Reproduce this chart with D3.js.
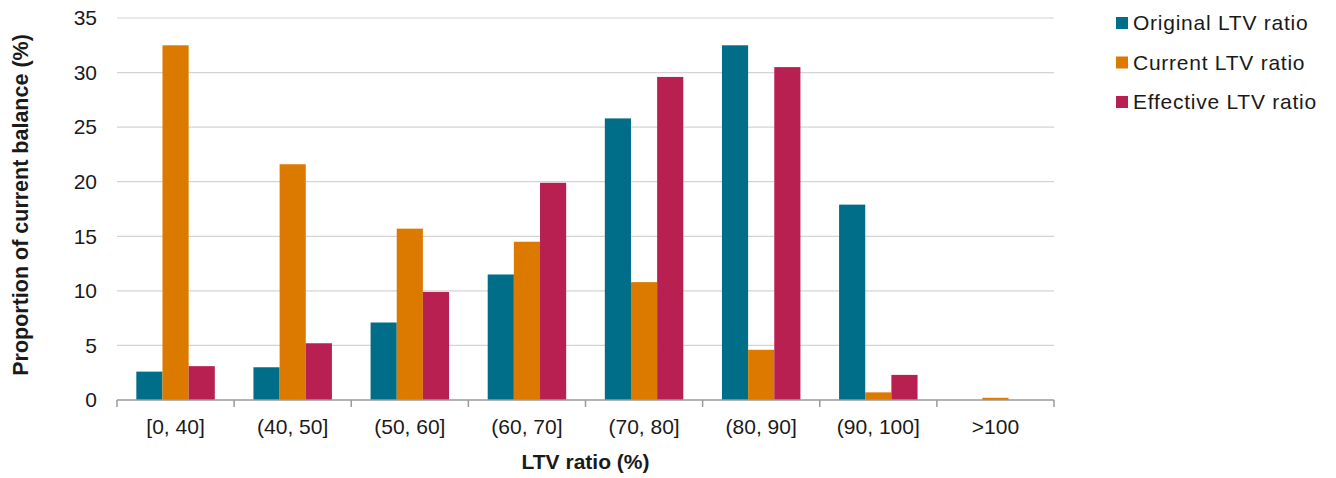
<!DOCTYPE html>
<html>
<head>
<meta charset="utf-8">
<script src="https://cdn.jsdelivr.net/npm/d3@7/dist/d3.min.js"></script>
<style>
  html, body { margin: 0; padding: 0; background: #ffffff; }
  svg text { font-family: "Liberation Sans", Arial, sans-serif; fill: #1a1a1a; }
</style>
</head>
<body>
<svg id="chart" width="1336" height="478"></svg>
<script>
// LTV ratio buckets and the share of current balance in each
const categories = ["[0, 40]", "(40, 50]", "(50, 60]", "(60, 70]", "(70, 80]", "(80, 90]", "(90, 100]", ">100"];
const seriesNames = ["Original LTV ratio", "Current LTV ratio", "Effective LTV ratio"];
const originalLTV  = [2.6, 3.0, 7.1, 11.5, 25.8, 32.5, 17.9, 0.0];
const currentLTV   = [32.5, 21.6, 15.7, 14.5, 10.8, 4.6, 0.7, 0.2];
const effectiveLTV = [3.1, 5.2, 9.9, 19.9, 29.6, 30.5, 2.3, 0.0];
const yTicks = [0, 5, 10, 15, 20, 25, 30, 35];
const colors = ["#006e89", "#dc7a00", "#b82052"];

const seriesValues = [originalLTV, currentLTV, effectiveLTV];
const rows = categories.map((c, i) => ({
  category: c,
  values: seriesNames.map((s, k) => ({ series: s, value: seriesValues[k][i] }))
}));

const svg = d3.select("#chart");
const margin = { left: 117, right: 282, top: 18, bottom: 78 };
const width = 1336, height = 478;
const innerW = width - margin.left - margin.right;
const innerH = height - margin.top - margin.bottom;

const g = svg.append("g").attr("transform", `translate(${margin.left},${margin.top})`);

const x0 = d3.scaleBand().domain(categories).range([0, innerW]).paddingInner(0).paddingOuter(0);
const groupPad = 0.165;
const x1 = d3.scaleBand().domain(seriesNames)
  .range([x0.bandwidth() * groupPad, x0.bandwidth() * (1 - groupPad)]).padding(0);
const y = d3.scaleLinear().domain([0, 35]).range([innerH, 0]);

// horizontal gridlines
g.append("g")
  .selectAll("line")
  .data(yTicks.filter(t => t > 0))
  .join("line")
  .attr("x1", 0).attr("x2", innerW)
  .attr("y1", d => y(d)).attr("y2", d => y(d))
  .attr("stroke", "#d4d4d4").attr("stroke-width", 1.2);

// y axis labels
const yAxis = d3.axisLeft(y).tickValues(yTicks).tickSize(0).tickPadding(20);
g.append("g").call(yAxis)
  .call(s => s.select(".domain").remove())
  .call(s => s.selectAll("text").attr("font-size", 21).attr("fill", "#1a1a1a")
    .attr("font-family", "'Liberation Sans', Arial, sans-serif"));

// bars
const groups = g.append("g").selectAll("g")
  .data(rows)
  .join("g")
  .attr("transform", d => `translate(${x0(d.category)},0)`);

groups.selectAll("rect")
  .data(d => d.values)
  .join("rect")
  .attr("x", d => x1(d.series))
  .attr("width", x1.bandwidth())
  .attr("y", d => y(d.value))
  .attr("height", d => innerH - y(d.value))
  .attr("fill", (d, i) => colors[i]);

// x axis with ticks at the bucket boundaries
const xAxisG = g.append("g").attr("transform", `translate(0,${innerH})`);
xAxisG.append("line")
  .attr("x1", 0).attr("x2", innerW).attr("y1", 0).attr("y2", 0)
  .attr("stroke", "#9a9a9a").attr("stroke-width", 1.5);
const boundaries = categories.map(c => x0(c)).concat([innerW]);
xAxisG.selectAll("line.tick")
  .data(boundaries)
  .join("line")
  .attr("class", "tick")
  .attr("x1", d => d).attr("x2", d => d)
  .attr("y1", 0).attr("y2", 7)
  .attr("stroke", "#9a9a9a").attr("stroke-width", 1.5);
xAxisG.selectAll("text")
  .data(categories)
  .join("text")
  .attr("x", d => x0(d) + x0.bandwidth() / 2)
  .attr("y", 34)
  .attr("text-anchor", "middle")
  .attr("font-size", 21)
  .text(d => d);

// axis titles
svg.append("text")
  .attr("x", margin.left + innerW / 2)
  .attr("y", 469)
  .attr("text-anchor", "middle")
  .attr("font-size", 21)
  .attr("font-weight", "bold")
  .text("LTV ratio (%)");

svg.append("text")
  .attr("transform", `translate(28,205) rotate(-90)`)
  .attr("text-anchor", "middle")
  .attr("font-size", 21.5)
  .attr("font-weight", "bold")
  .text("Proportion of current balance (%)");

// legend
const legend = svg.append("g").attr("transform", "translate(1116,17)");
const items = legend.selectAll("g")
  .data(seriesNames)
  .join("g")
  .attr("transform", (d, i) => `translate(0,${i * 39.5})`);
items.append("rect")
  .attr("width", 12).attr("height", 12)
  .attr("fill", (d, i) => colors[i]);
items.append("text")
  .attr("x", 17).attr("y", 13)
  .attr("font-size", 21)
  .attr("letter-spacing", 0.75)
  .text(d => d);
</script>
</body>
</html>
